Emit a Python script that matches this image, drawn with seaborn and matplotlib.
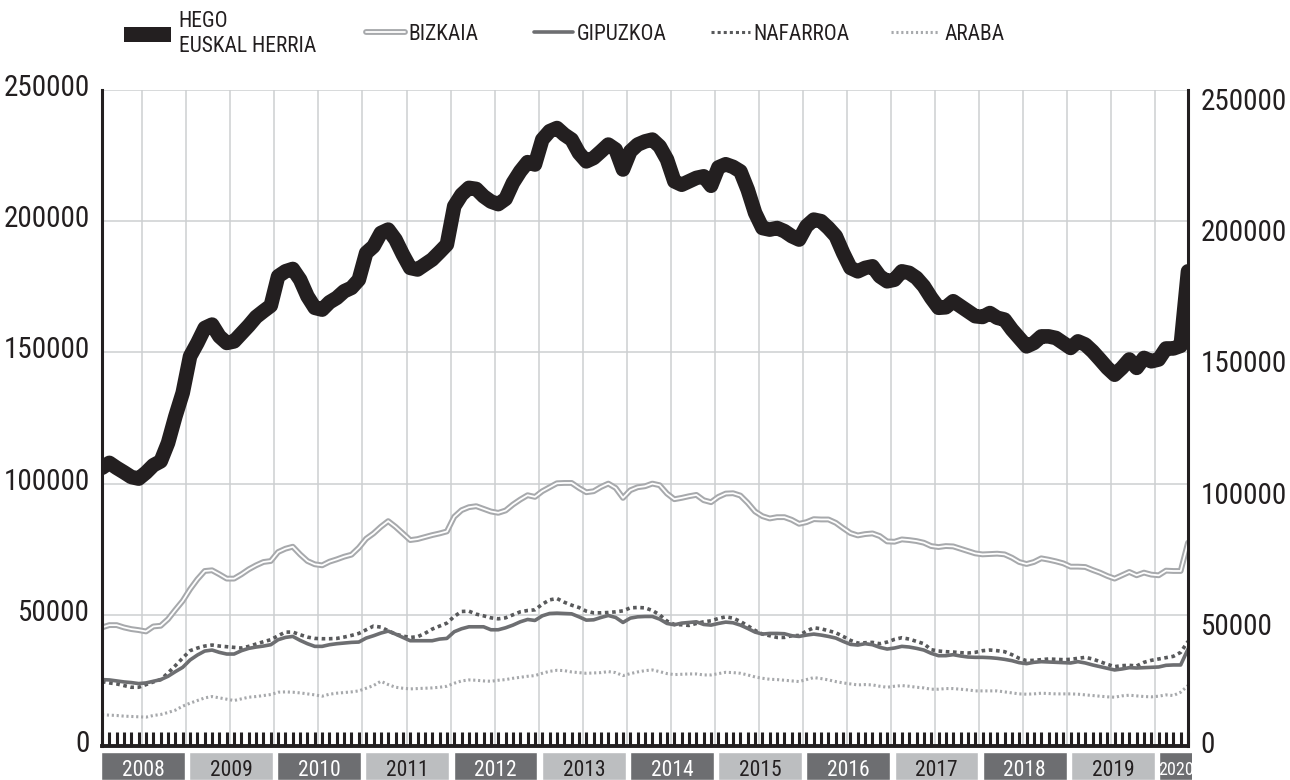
import numpy as np
import pandas as pd
import matplotlib.pyplot as plt
import matplotlib.patheffects as pe
from matplotlib.lines import Line2D
from matplotlib.patches import Patch
from matplotlib.transforms import ScaledTranslation
from matplotlib import font_manager
import seaborn as sns

# Datos mensuales: enero 2008 - mayo 2020
years = list(range(2008, 2021))
year_labels = [str(y) for y in years]
y_ticks = [0, 50000, 100000, 150000, 200000, 250000]
y_labels = [str(v) for v in y_ticks]

hego = [106000, 107900, 106000, 104300, 102500, 101900, 104200, 107000, 108500, 115500,
        125600, 134600, 148500, 153600, 159300, 160600, 156100, 153600, 154200, 157200,
        160200, 163500, 165700, 167800, 179000, 180900, 181800, 177700, 171400, 167000,
        166300, 169100, 170800, 173300, 174600, 177700, 187900, 190400, 195500, 196800,
        193000, 187300, 182200, 181600, 183500, 185400, 188200, 191100, 205700, 210100,
        212700, 212300, 209500, 207500, 206500, 208500, 214600, 219000, 222500, 221600,
        231100, 234300, 235500, 233000, 231100, 226000, 222800, 224100, 226600, 229200,
        227300, 219700, 226600, 229200, 230400, 231100, 228500, 223500, 215200, 213900,
        215200, 216500, 217100, 213500, 220500, 221700, 220700, 219000, 212000, 203200,
        197400, 196800, 197400, 196200, 194300, 193000, 198100, 200600, 200000, 197400,
        194300, 187900, 182200, 180900, 182200, 182800, 179000, 177100, 177700, 180900,
        180300, 178400, 175200, 170800, 167000, 167200, 169500, 167600, 165700, 163800,
        163500, 165000, 163200, 162500, 158700, 155500, 152300, 153600, 156100, 156100,
        155500, 153600, 151700, 154200, 153000, 150400, 147300, 144100, 141500, 144100,
        147300, 144100, 147900, 146600, 147300, 151500, 151500, 152500, 180900]

bizkaia = [45180, 46070, 46070, 45180, 44550, 44170, 43660, 45560, 45820, 48350,
           51900, 55310, 59740, 63540, 66700, 66960, 65440, 63790, 63790, 65440,
           67340, 68860, 70120, 70500, 73920, 75190, 75950, 73030, 70500, 69240,
           68860, 70250, 71140, 72150, 72910, 75570, 78990, 81010, 83540, 85700,
           83540, 81010, 78480, 78860, 79620, 80380, 81010, 81770, 87340, 89870,
           91010, 91390, 90380, 89370, 88860, 89750, 92020, 93920, 95570, 94940,
           97090, 98610, 100130, 100250, 100250, 98350, 96710, 97090, 98730, 100000,
           98350, 94560, 97470, 98610, 98990, 100000, 99370, 96200, 94050, 94560,
           95190, 95700, 93670, 92910, 94940, 96200, 96330, 95440, 92660, 89370,
           87590, 86710, 87210, 87210, 86200, 84680, 85310, 86450, 86330, 86330,
           85060, 83040, 81140, 80250, 80760, 81010, 80000, 77970, 77850, 78730,
           78480, 78100, 77470, 76200, 75820, 76200, 76070, 75190, 74300, 73410,
           73030, 73160, 73290, 73030, 71770, 70120, 69360, 70120, 71520, 71010,
           70380, 69620, 68350, 68350, 68220, 67090, 66070, 64810, 63790, 65060,
           66330, 65060, 66070, 65310, 65060, 66830, 66700, 66700, 77470]

gipuzkoa = [25300, 25180, 24800, 24420, 24170, 23790, 24040, 24670, 25300, 26570,
            28340, 29990, 32770, 34670, 36190, 36570, 35680, 35050, 35050, 36320,
            37210, 37710, 38090, 38600, 40500, 41380, 41760, 40250, 38980, 37970,
            37970, 38600, 38980, 39230, 39490, 39610, 41130, 42020, 43030, 43790,
            42650, 41380, 40120, 40120, 40120, 40120, 40750, 41000, 43540, 44680,
            45430, 45430, 45430, 44300, 44300, 45050, 46070, 47330, 48220, 47840,
            49610, 50500, 50630, 50500, 50370, 49230, 47970, 48090, 48980, 49740,
            48980, 47080, 48730, 49230, 49360, 49360, 48350, 46700, 46200, 46830,
            47080, 47330, 46320, 46070, 46700, 47210, 46960, 46070, 44800, 43410,
            42650, 42900, 42900, 42780, 42020, 41760, 42270, 42650, 42270, 41760,
            41130, 39870, 38730, 38470, 38980, 38600, 37590, 36950, 37340, 37970,
            37720, 37210, 36570, 35310, 34420, 34420, 34800, 34300, 33920, 33790,
            33790, 33660, 33410, 33030, 32520, 31760, 31380, 31890, 32140, 32010,
            31890, 31760, 31640, 32140, 31640, 30880, 30240, 29610, 28980, 29350,
            29860, 29730, 29860, 29990, 30110, 30750, 30880, 30880, 36950]

nafarroa = [24550, 24040, 23660, 23030, 22390, 22390, 23410, 24420, 25310, 27840,
            30620, 33540, 36320, 37330, 38090, 38470, 38090, 37840, 37590, 37330,
            37970, 38850, 39740, 40500, 42020, 43410, 43410, 42400, 41510, 41000,
            40880, 40880, 41000, 41510, 42140, 42900, 44300, 45690, 45310, 43920,
            42650, 41890, 41380, 41640, 42900, 44550, 45690, 46830, 49360, 51260,
            51390, 50250, 49610, 48850, 48470, 48850, 49990, 51130, 51640, 51890,
            54040, 55690, 56200, 54800, 53660, 52780, 51390, 50750, 50750, 50880,
            51130, 51510, 52650, 52780, 52650, 51640, 49990, 47590, 46320, 46200,
            45940, 46700, 47330, 47710, 48600, 49230, 48730, 47460, 45820, 44040,
            42650, 42020, 41380, 41380, 42020, 42140, 43790, 45060, 44680, 43920,
            43160, 41760, 40250, 39230, 39360, 39490, 38980, 39610, 40630, 41260,
            40750, 39870, 38980, 36700, 36190, 35940, 35810, 35560, 35430, 35690,
            36320, 36570, 36320, 35940, 34800, 33410, 32520, 32650, 32900, 33160,
            33030, 32900, 33030, 33410, 33790, 33160, 32140, 31130, 30240, 30620,
            30750, 30500, 31890, 32650, 33160, 33660, 34170, 35690, 39870]

araba = [11890, 11760, 11630, 11380, 11250, 11130, 11000, 11630, 12010, 12770,
         13660, 15180, 16320, 17330, 18340, 18850, 18340, 17840, 17330, 17970,
         18600, 18850, 19230, 19610, 20500, 20620, 20500, 20240, 19860, 19480,
         18980, 19740, 20120, 20370, 20620, 21000, 22010, 23030, 24670, 23410,
         22390, 22010, 21760, 21890, 22010, 22140, 22390, 22770, 23910, 24800,
         25180, 25050, 24800, 24670, 25050, 25310, 25810, 26190, 26570, 26830,
         27710, 28470, 28850, 28730, 28220, 27970, 27710, 27840, 27970, 28350,
         27970, 26830, 27590, 28220, 28720, 28980, 28350, 27590, 27210, 27330,
         27460, 27460, 27080, 27080, 27590, 28090, 27970, 27710, 27080, 26320,
         25810, 25430, 25310, 25050, 24800, 24550, 25310, 26070, 25690, 25180,
         24550, 24040, 23660, 23280, 23410, 23280, 22770, 22390, 22770, 23030,
         22770, 22390, 22140, 21640, 21640, 21890, 21890, 21640, 21380, 21000,
         21000, 21000, 21000, 20620, 20240, 19860, 19740, 19860, 20120, 19990,
         19860, 19860, 19860, 19740, 19480, 19230, 18980, 18730, 18600, 19110,
         19360, 19110, 18850, 18730, 18980, 19480, 19230, 20500, 23030]

meses = np.arange(len(hego))
df = pd.DataFrame({'mes': meses, 'HEGO': hego, 'BIZKAIA': bizkaia,
                   'GIPUZKOA': gipuzkoa, 'NAFARROA': nafarroa, 'ARABA': araba})

# colores
negro = '#231f20'
gris_osc = '#6d6e71'
gris_naf = '#58595b'
gris_cla = '#a7a9ac'
gris_caja = '#bcbec0'
gris_grid = '#cdcfd1'

sns.set_style('white')
# fuente estrecha si existe, si no Roboto
nombres = {f.name for f in font_manager.fontManager.ttflist}
fuente = next((n for n in ['Roboto Condensed', 'Liberation Sans Narrow', 'Roboto']
               if n in nombres), 'DejaVu Sans')
plt.rcParams['font.family'] = [fuente, 'DejaVu Sans']
condensada = fuente != 'Roboto'

W, H = 1290, 780
fig = plt.figure(figsize=(W / 100, H / 100), dpi=100)
ax = fig.add_axes([102 / W, 34 / H, 1086 / W, 656 / H])

# series
biz_fx = [pe.Stroke(linewidth=4.2, foreground=gris_cla), pe.Normal()]
sns.lineplot(data=df, x='mes', y='ARABA', ax=ax, color=gris_cla, linewidth=2.2,
             linestyle=(0, (0.7, 0.9)))
sns.lineplot(data=df, x='mes', y='NAFARROA', ax=ax, color=gris_naf, linewidth=2.6,
             linestyle=(0, (1, 1)))
sns.lineplot(data=df, x='mes', y='GIPUZKOA', ax=ax, color=gris_osc, linewidth=2.6)
sns.lineplot(data=df, x='mes', y='BIZKAIA', ax=ax, color='white', linewidth=1.3,
             path_effects=biz_fx)
sns.lineplot(data=df, x='mes', y='HEGO', ax=ax, color=negro, linewidth=10.5,
             solid_joinstyle='round')

ax.set_xlim(0, len(hego) - 1)
ax.set_ylim(0, 250000)
ax.set_xlabel('')
ax.set_ylabel('')

# marcas mensuales y rejilla semestral
ax.set_xticks(meses)
ax.set_xticks(np.arange(5.5, len(hego) - 1, 6), minor=True)
ax.tick_params(axis='x', which='major', direction='in', length=10, width=2.2,
               color=negro, labelbottom=False, bottom=True)
ax.tick_params(axis='x', which='minor', length=0)
ax.grid(axis='x', which='minor', color=gris_grid, linewidth=1.1)
ax.grid(axis='y', which='major', color=gris_grid, linewidth=1.1)
ax.set_axisbelow(True)

ax.set_yticks(y_ticks, y_labels)
ax.tick_params(axis='y', length=0, labelsize=21 if condensada else 18,
               labelcolor=negro, labelleft=True, labelright=True, pad=9)
for t in ax.yaxis.get_major_ticks():
    t.label1.set_transform(t.label1.get_transform() +
                           ScaledTranslation(0, 0.05, fig.dpi_scale_trans))
    dy = 0.04 if t.label2.get_text() == '0' else -0.09
    t.label2.set_transform(t.label2.get_transform() +
                           ScaledTranslation(0, dy, fig.dpi_scale_trans))

ax.spines['top'].set_visible(False)
for s in ['left', 'right']:
    ax.spines[s].set_linewidth(2.2)
    ax.spines[s].set_color(negro)
ax.spines['bottom'].set_linewidth(2.8)
ax.spines['bottom'].set_color(negro)

# cajas de años
axb = fig.add_axes([102 / W, 0, 1090 / W, 28 / H])
x_max = 148.3
axb.set_xlim(0, x_max)
axb.set_ylim(0, 1)
axb.axis('off')
starts = [(y - 2008) * 12 - 0.15 for y in years]
ancho = 11.4
colores = [gris_osc if k % 2 == 0 else gris_caja for k in range(len(years))]
axb.bar(starts, 1, width=ancho, align='edge', color=colores)
for k, lab in enumerate(year_labels):
    x0 = max(starts[k], 0)
    x1 = min(starts[k] + ancho, x_max)
    tam = 15.5 if x1 - x0 > 8 else (13 if condensada else 11)
    axb.text((x0 + x1) / 2, 0.34, lab, ha='center', va='center', fontsize=tam,
             color='white' if k % 2 == 0 else negro)

# leyenda
entradas = [
    (113, Patch(facecolor=negro, edgecolor='none'), 'HEGO\nEUSKAL HERRIA', 2.2, 0.35),
    (355, Line2D([], [], color='white', linewidth=1.3, path_effects=biz_fx), 'BIZKAIA', 1.8, 0.2),
    (523, Line2D([], [], color=gris_osc, linewidth=2.6), 'GIPUZKOA', 1.8, 0.2),
    (700, Line2D([], [], color=gris_naf, linewidth=2.2, linestyle=(0, (1, 1))), 'NAFARROA', 1.8, 0.2),
    (880, Line2D([], [], color=gris_cla, linewidth=2.2, linestyle=(0, (0.7, 0.9))), 'ARABA', 2.2, 0.3),
]
for x, h, lab, hl, tp in entradas:
    fig.legend(handles=[h], labels=[lab], loc='center left',
               bbox_to_anchor=(x / W, 1 - 34 / H), frameon=False, borderpad=0,
               fontsize=15.5, handlelength=hl, handleheight=0.7, handletextpad=tp,
               labelspacing=0.2, labelcolor=negro)

plt.savefig('out.png', dpi=100)
